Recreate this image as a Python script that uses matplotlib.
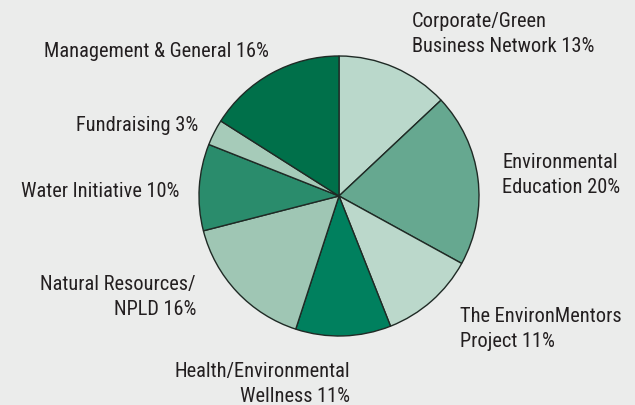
import matplotlib
matplotlib.use("Agg")
import os
import matplotlib.pyplot as plt
from matplotlib import font_manager
from matplotlib.font_manager import FontProperties

labels = ["Corporate/Green\nBusiness Network 13%",
          "Environmental\nEducation 20%",
          "The EnvironMentors\nProject 11%",
          "Health/Environmental\nWellness 11%",
          "Natural Resources/\nNPLD 16%",
          "Water Initiative 10%",
          "Fundraising 3%",
          "Management & General 16%"]
values = [13, 20, 11, 11, 16, 10, 3, 16]
colors = ["#bad8cb", "#66a890", "#bbd8cb", "#00805e",
          "#9fc6b4", "#2a8c6c", "#a6cbb9", "#00704a"]

# find a condensed regular font if installed
cands = []
for f in font_manager.fontManager.ttflist:
    b = os.path.basename(f.fname).lower()
    if ("condensed" in b or "narrow" in b) and "semi" not in b and "extra" not in b \
            and "bold" not in b and "italic" not in b and "light" not in b \
            and "medium" not in b and "thin" not in b and "black" not in b \
            and "oblique" not in b:
        cands.append(f)
pref = ["roboto", "open", "noto", "liberation", "dejavu"]
def key(f):
    b = os.path.basename(f.fname).lower()
    for i, p in enumerate(pref):
        if p in b:
            return i
    return 99
cands.sort(key=key)
if cands:
    fp = FontProperties(fname=cands[0].fname)
    fsize = 14.7
else:
    fp = FontProperties(family="DejaVu Sans")
    fsize = 11

W, H = 635, 406
fig = plt.figure(figsize=(W/100, H/100), dpi=100)
bg = "#ebeceb"
fig.patch.set_facecolor(bg)

cx, cy, r = 339, 197, 140
ax = fig.add_axes([(cx-r)/W, (H-cy-r)/H, 2*r/W, 2*r/H])
ax.set_facecolor(bg)
ax.pie(values, colors=colors, startangle=90, counterclock=False,
       wedgeprops=dict(edgecolor="#1f2a25", linewidth=1.0))
ax.set_xlim(-1, 1); ax.set_ylim(-1, 1)
ax.set_aspect("equal")
ax.axis("off")

# (x, last-line baseline y, alignment) in pixels from top-left
pos = [(412, 52, "left"), (502, 193, "left"), (460, 347, "left"),
       (350, 402, "right"), (196, 315, "right"), (179, 197, "right"),
       (198, 131, "right"), (269, 57, "right")]
for lab, (x, y, ha) in zip(labels, pos):
    fig.text(x/W, 1 - y/H, lab, ha=ha, va="baseline", fontproperties=fp,
             fontsize=fsize, color="#231f20", linespacing=1.40,
             multialignment=ha)

fig.savefig("out.png", dpi=100, facecolor=bg)
